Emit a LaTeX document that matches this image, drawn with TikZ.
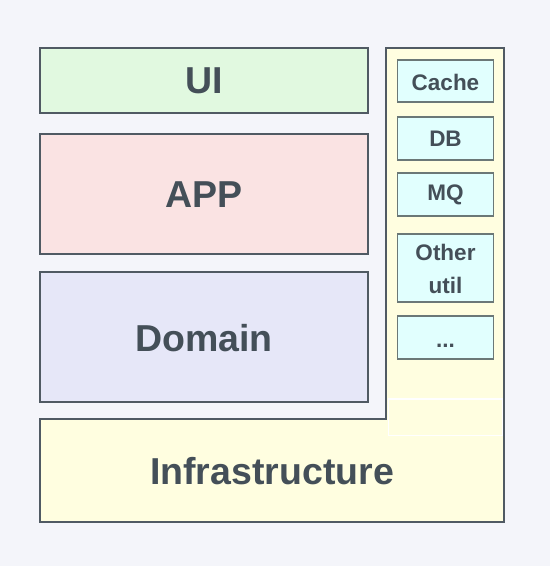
\documentclass[tikz,border=0pt]{standalone}
\usepackage{fontspec}
\setmainfont{Liberation Sans}
\definecolor{bgc}{HTML}{F4F5FA}
\definecolor{uic}{HTML}{E1F9E0}
\definecolor{appc}{HTML}{FAE3E3}
\definecolor{domc}{HTML}{E6E7F8}
\definecolor{infc}{HTML}{FFFEE0}
\definecolor{utc}{HTML}{E1FFFE}
\definecolor{edgec}{HTML}{505A63}
\definecolor{smedge}{HTML}{6B7877}
\definecolor{txtc}{HTML}{444F58}
\begin{document}
\begin{tikzpicture}[x=1pt,y=-1pt,
  layer/.style={draw=edgec,line width=1.6pt},
  util/.style={draw=smedge,line width=1.4pt,fill=utc},
  bigtext/.style={text=txtc,font=\fontsize{37.5}{40}\selectfont\bfseries},
  smalltext/.style={text=txtc,align=center,font=\fontsize{22.5}{33}\selectfont\bfseries}]
\fill[bgc] (0,0) rectangle (550,566);
\useasboundingbox (0,0) rectangle (550,566);
% infrastructure L-shape
\filldraw[fill=infc,draw=edgec,line width=1.6pt,line join=miter]
  (40,419) -- (386,419) -- (386,48) -- (504,48) -- (504,522) -- (40,522) -- cycle;
\draw[white,line width=1.2pt] (388.5,399) rectangle (502.5,435.5);
\node[bigtext] (infra) at (272,471) {Infrastructure};
% layers
\draw[layer,fill=uic] (40,48) rectangle (368,113);
\node[bigtext] (ui) at (204,81) {UI};
\draw[layer,fill=appc] (40,134) rectangle (368,254);
\node[bigtext] (app) at (204,195) {APP};
\draw[layer,fill=domc] (40,272) rectangle (368,402);
\node[bigtext] (dom) at (204,338) {Domain};
% utilities
\draw[util] (397.5,60) rectangle (493.5,102);
\node[smalltext] (cache) at (445.5,82) {Cache};
\draw[util] (397.5,117) rectangle (493.5,160);
\node[smalltext] (db) at (445.5,139) {DB};
\draw[util] (397.5,173) rectangle (493.5,216);
\node[smalltext] (mq) at (445.5,195) {MQ};
\draw[util] (397.5,234) rectangle (493.5,302);
\node[smalltext] (other) at (445.5,269) {Other\\util};
\draw[util] (397.5,316) rectangle (493.5,359);
\node[smalltext,anchor=base] (dots) at (445.5,347) {...};
\end{tikzpicture}
\end{document}
